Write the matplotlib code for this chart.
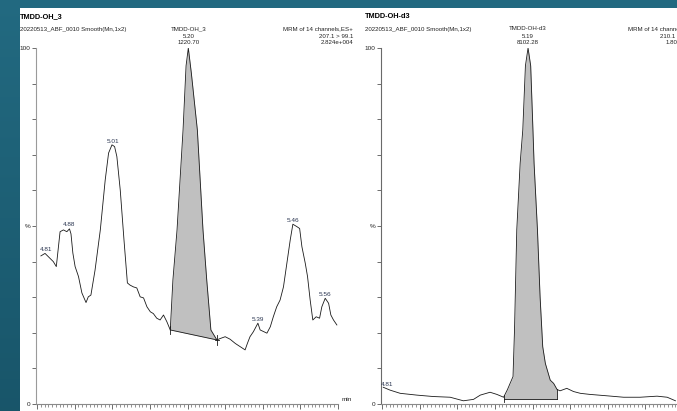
import numpy as np
import matplotlib
matplotlib.use("Agg")
import matplotlib.pyplot as plt
from matplotlib.patches import Rectangle
from matplotlib.ticker import MultipleLocator

plt.rcParams['font.family'] = ['Liberation Sans', 'DejaVu Sans']

# ---------------- data ----------------
left_t = [4.810, 4.821, 4.843, 4.851, 4.861, 4.870, 4.879, 4.886, 4.890, 4.895,
          4.901, 4.910, 4.919, 4.930, 4.936, 4.943, 4.954, 4.968, 4.981, 4.990,
          4.999, 5.006, 5.012, 5.021, 5.031, 5.040, 5.047, 5.056, 5.065, 5.074,
          5.083, 5.092, 5.101, 5.109, 5.118, 5.127, 5.136, 5.145, 5.154, 5.161,
          5.172, 5.188, 5.196, 5.202, 5.210, 5.226, 5.241, 5.251, 5.262, 5.278,
          5.287, 5.300, 5.313, 5.327, 5.340, 5.353, 5.359, 5.366, 5.375, 5.387,
          5.393, 5.411, 5.420, 5.428, 5.437, 5.446, 5.455, 5.464, 5.473, 5.480,
          5.491, 5.498, 5.504, 5.513, 5.519, 5.526, 5.533, 5.542, 5.551, 5.557,
          5.566, 5.575, 5.581, 5.588, 5.597]
left_pct = [41.6, 42.3, 40.0, 38.6, 48.4, 48.9, 48.4, 49.2, 47.8, 42.4,
            38.6, 35.8, 31.2, 28.5, 30.1, 30.6, 37.6, 48.9, 62.9, 70.5,
            72.8, 72.3, 69.5, 60.1, 46.0, 34.0, 33.4, 32.9, 32.6, 30.1,
            29.8, 27.3, 25.9, 25.4, 24.1, 23.6, 25.0, 23.1, 20.8, 34.8,
            48.9, 77.0, 95.0, 100.0, 93.0, 77.0, 48.9, 34.8, 20.8, 18.0,
            18.4, 18.9, 18.2, 17.0, 16.1, 15.2, 17.0, 18.9, 20.3, 22.7,
            20.8, 19.9, 21.7, 24.5, 27.3, 29.2, 32.9, 39.5, 46.1, 50.5,
            49.8, 49.3, 44.2, 39.5, 35.8, 29.2, 23.6, 24.5, 24.1, 27.3,
            29.7, 28.3, 25.0, 23.6, 22.2]

right_t = [4.803, 4.821, 4.848, 4.892, 4.936, 4.981, 5.016, 5.043, 5.061, 5.087,
           5.105, 5.123, 5.133, 5.148, 5.152, 5.158, 5.167, 5.174, 5.181, 5.188,
           5.195, 5.201, 5.204, 5.213, 5.220, 5.227, 5.234, 5.247, 5.256, 5.265,
           5.273, 5.291, 5.309, 5.327, 5.352, 5.398, 5.442, 5.486, 5.531, 5.558,
           5.580]
right_pct = [4.7, 3.9, 3.0, 2.5, 2.1, 1.9, 0.9, 1.3, 2.5, 3.3,
             2.7, 1.9, 4.0, 7.7, 20.8, 48.9, 67.6, 77.0, 95.0, 100.0,
             95.0, 77.0, 67.6, 48.9, 30.1, 16.1, 11.4, 6.7, 5.8, 4.1,
             3.7, 4.4, 3.5, 3.0, 2.7, 2.3, 1.9, 1.9, 2.2, 1.9,
             0.9]

left_peak_window = (5.154, 5.278)
right_peak_window = (5.123, 5.265)
right_baseline = 1.3

left_peak_labels = ["4.81", "4.88", "5.01", "5.39", "5.46", "5.56"]
left_peak_times = [4.821, 4.886, 5.003, 5.387, 5.480, 5.566]
right_peak_labels = ["4.81"]
right_peak_times = [4.810]

x_ticks = [4.8, 4.9, 5.0, 5.1, 5.2, 5.3, 5.4, 5.5, 5.6]
x_tick_labels = ["4.800", "4.900", "5.000", "5.100", "5.200", "5.300", "5.400", "5.500", "5.600"]
y_ticks = [0, 10, 20, 30, 40, 50, 60, 70, 80, 90, 100]
y_tick_labels = ["0", "", "", "", "", "%", "", "", "", "", "100"]

left_header = ["TMDD-OH_3", "20220513_ABF_0010 Smooth(Mn,1x2)",
               ["TMDD-OH_3", "5.20", "1220.70"],
               ["MRM of 14 channels,ES+", "207.1 > 99.1", "2.824e+004"]]
right_header = ["TMDD-OH-d3", "20220513_ABF_0010 Smooth(Mn,1x2)",
                ["TMDD-OH-d3", "5.19", "8102.28"],
                ["MRM of 14 channels,ES+", "210.1 > 102.1", "1.802e+004"]]

# ---------------- figure ----------------
W, H = 677, 411
fig = plt.figure(figsize=(W / 100, H / 100), dpi=100)

bg = fig.add_axes([0, 0, 1, 1], zorder=-10)
top_c = np.array([0.135, 0.415, 0.505])
bot_c = np.array([0.095, 0.335, 0.415])
g = np.linspace(0, 1, 256)[:, None, None]
img = top_c * (1 - g) + bot_c * g
img = np.repeat(img, 2, axis=1)
bg.imshow(img, aspect='auto', extent=[0, 1, 0, 1])
bg.add_patch(Rectangle((20 / W, 0), 1, 1 - 8 / H, transform=bg.transAxes,
                       facecolor='white', edgecolor='none'))
bg.set_xlim(0, 1); bg.set_ylim(0, 1)
bg.axis('off')

def ftxt(x, y, s, **kw):
    fig.text(x / W, 1 - y / H, s, va='center', **kw)

TXT = '#222222'
LBL = '#2a3550'

def header(x0, xc, xr, hdr):
    ftxt(x0, 17, hdr[0], fontsize=5.3, fontweight='bold', color='black', ha='left')
    ftxt(x0, 29, hdr[1], fontsize=4.4, color=TXT, ha='left')
    for i, s in enumerate(hdr[2]):
        ftxt(xc, 29 + i * 7, s, fontsize=4.4, color=TXT, ha='center')
    for i, s in enumerate(hdr[3]):
        ftxt(xr, 29 + i * 7, s, fontsize=4.4, color=TXT, ha='right')

header(20, 189, 353, left_header)
header(365, 528, 698, right_header)

def panel(left_px, t, p, labels, ltimes, show_min, spine_col):
    ax = fig.add_axes([left_px / W, (H - 404) / H, 302 / W, 356 / H])
    ax.set_xlim(4.797, 5.600)
    ax.set_ylim(0, 100)
    for s in ['top', 'right']:
        ax.spines[s].set_visible(False)
    ax.spines['left'].set_color(spine_col)
    ax.spines['left'].set_linewidth(0.8)
    ax.spines['bottom'].set_color('#8a8a8a')
    ax.spines['bottom'].set_linewidth(0.8)
    ax.set_yticks(y_ticks)
    ax.set_yticklabels(y_tick_labels)
    ax.tick_params(axis='y', length=3, width=0.6, color='#555', labelsize=4.6,
                   pad=1, labelcolor=TXT)
    ax.set_xticks(x_ticks)
    ax.set_xticklabels(x_tick_labels)
    ax.xaxis.set_minor_locator(MultipleLocator(0.01))
    ax.tick_params(axis='x', which='major', length=3.5, width=0.6, color='#555',
                   labelsize=4.0, pad=1.5, labelcolor='#3a4a70')
    ax.tick_params(axis='x', which='minor', length=2, width=0.5, color='#666')
    ax.plot(t, p, color='#1a1a1a', lw=0.6, zorder=3)
    for s, tt in zip(labels, ltimes):
        yy = np.interp(tt, t, p)
        ax.annotate(s, (tt, yy), xytext=(1 if tt < 4.83 else 0, 1), textcoords='offset points',
                    ha='center', va='bottom', fontsize=4.6, color=LBL)
    if show_min:
        ax.text(1.01, 0.005, 'min', transform=ax.transAxes, fontsize=4.6,
                color=TXT, ha='left', va='bottom')
    return ax

axl = panel(36, left_t, left_pct, left_peak_labels, left_peak_times, True, '#9a9a9a')
axr = panel(381, right_t, right_pct, right_peak_labels, right_peak_times, False, '#6a6a6a')

# left integrated peak (sloped baseline)
lt = np.array(left_t); lp = np.array(left_pct)
a, b = left_peak_window
m = (lt >= a - 1e-9) & (lt <= b + 1e-9)
pa, pb = np.interp(a, lt, lp), np.interp(b, lt, lp)
base = pa + (lt[m] - a) * (pb - pa) / (b - a)
axl.fill_between(lt[m], lp[m], base, color='#c0c0c0', zorder=2, lw=0)
axl.plot([a, b], [pa, pb], color='#1a1a1a', lw=0.6, zorder=3)
axl.plot([a, a], [pa - 1.2, pa + 1.2], color='#1a1a1a', lw=0.6, zorder=3)
axl.plot([b, b], [pb - 1.5, pb + 1.5], color='#1a1a1a', lw=0.6, zorder=3)
axl.plot([b - 0.005, b + 0.005], [pb, pb], color='#1a1a1a', lw=0.6, zorder=3)

# right integrated peak (flat baseline)
rt = np.array(right_t); rp = np.array(right_pct)
a, b = right_peak_window
m = (rt >= a - 1e-9) & (rt <= b + 1e-9)
axr.fill_between(rt[m], rp[m], right_baseline, color='#c0c0c0', zorder=2, lw=0)
axr.plot([a, b], [right_baseline, right_baseline], color='#1a1a1a', lw=0.6, zorder=3)
axr.plot([a, a], [right_baseline - 0.8, np.interp(a, rt, rp) + 0.6], color='#1a1a1a', lw=0.6, zorder=3)
axr.plot([b, b], [right_baseline, np.interp(b, rt, rp)], color='#1a1a1a', lw=0.6, zorder=3)

fig.savefig('out.png', dpi=100)
